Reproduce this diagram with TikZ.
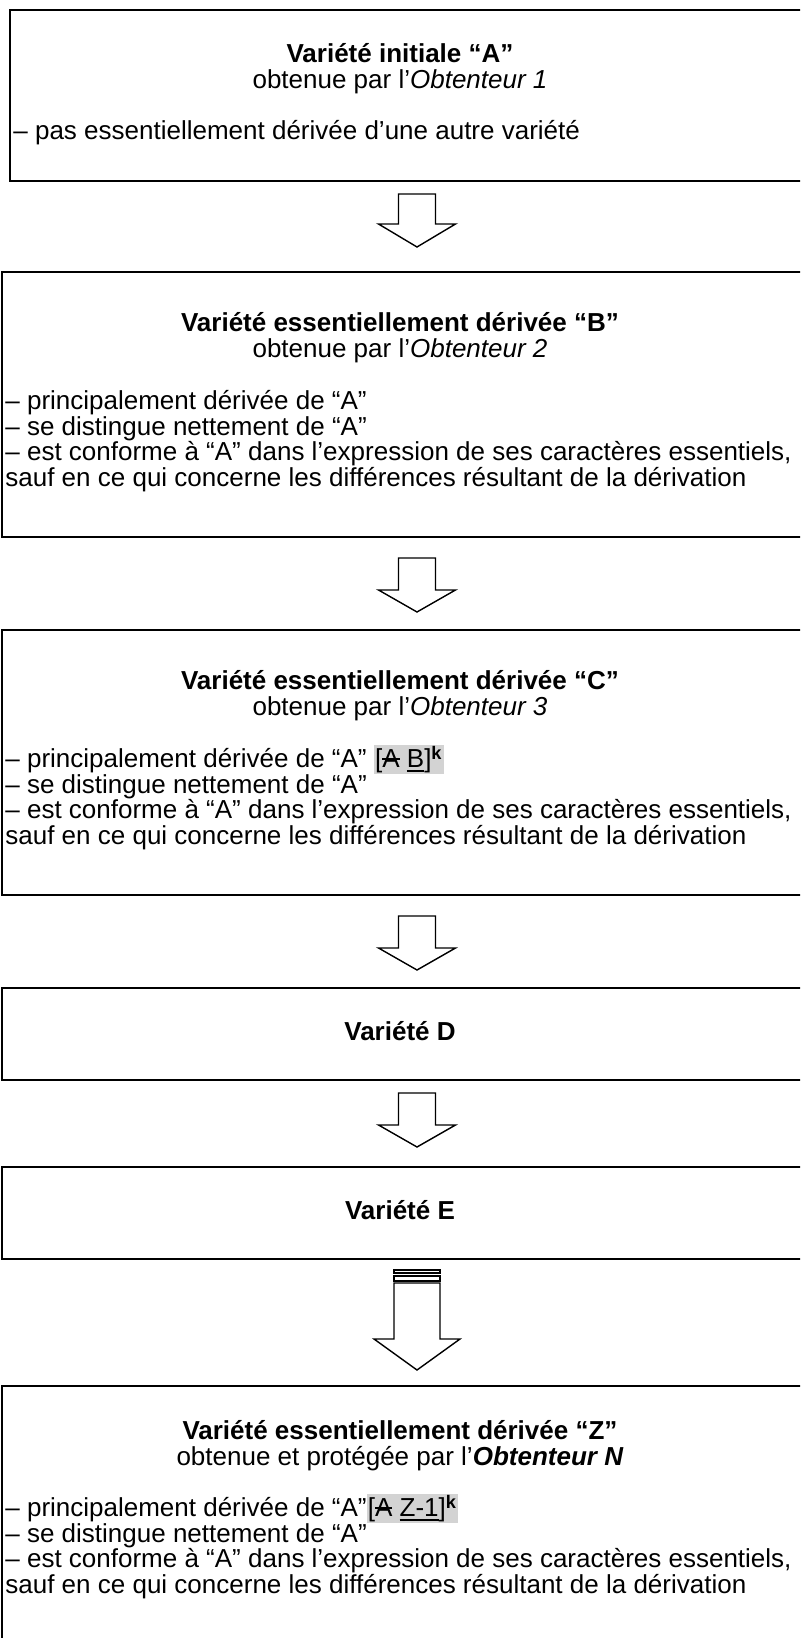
\documentclass[tikz,border=0pt]{standalone}
\usepackage{fontspec}
\setmainfont{Liberation Sans}
\definecolor{hlgray}{RGB}{211,211,211}
\newsavebox{\wordbox}
\newcommand{\hl}[1]{{\setlength{\fboxsep}{0.6pt}\colorbox{hlgray}{#1}}}
\newcommand{\strk}[1]{\sbox{\wordbox}{#1}\rlap{\usebox{\wordbox}}\rule[0.3em]{\wd\wordbox}{0.07em}}
\newcommand{\undl}[1]{\sbox{\wordbox}{#1}\rlap{\usebox{\wordbox}}\rule[-0.15em]{\wd\wordbox}{0.06em}}

\begin{document}
\begin{tikzpicture}[x=0.5pt, y=-0.5pt,
    box/.style={line width=1.3pt},
    blockarrow/.style={line width=0.7pt, fill=white, line join=miter},
    txt/.style={inner sep=0pt, text height=9.4pt, text depth=2.7pt,
      font=\fontsize{13}{14}\selectfont},
    title/.style={txt, font=\fontsize{13}{14}\selectfont\bfseries},
    item/.style={txt, anchor=west}]
  \useasboundingbox (0,0) rectangle (800,1638);
  \clip (0,0) rectangle (800,1638);
  % Variety A
  \draw[box] (10,10) rectangle (820,181);
  \node[title] (titleA) at (400,56) {Variété initiale “A”};
  \node[txt] (byA) at (400,82) {obtenue par l’\textit{Obtenteur 1}};
  \node[item] (a1) at (13,133) {– pas essentiellement dérivée d’une autre variété};
  % Variety B
  \draw[box] (2,272) rectangle (820,537);
  \node[title] (titleB) at (400,325) {Variété essentiellement dérivée “B”};
  \node[txt] (byB) at (400,351) {obtenue par l’\textit{Obtenteur 2}};
  \node[item] (b1) at (5,403) {– principalement dérivée de “A”};
  \node[item] (b2) at (5,428.5) {– se distingue nettement de “A”};
  \node[item] (b3) at (5,454) {– est conforme à “A” dans l’expression de ses caractères essentiels,};
  \node[item] (b4) at (5,479.5) {sauf en ce qui concerne les différences résultant de la dérivation};
  % Variety C
  \draw[box] (2,630) rectangle (820,895);
  \node[title] (titleC) at (400,683) {Variété essentiellement dérivée “C”};
  \node[txt] (byC) at (400,709) {obtenue par l’\textit{Obtenteur 3}};
  \node[item] (c1) at (5,761) {– principalement dérivée de “A” \hl{[\strk{A} \undl{B}]\textsuperscript{\textbf{k}}}};
  \node[item] (c2) at (5,786.5) {– se distingue nettement de “A”};
  \node[item] (c3) at (5,812) {– est conforme à “A” dans l’expression de ses caractères essentiels,};
  \node[item] (c4) at (5,837.5) {sauf en ce qui concerne les différences résultant de la dérivation};
  % Variety D
  \draw[box] (2,988) rectangle (820,1080);
  \node[title] (titleD) at (400,1034) {Variété D};
  % Variety E
  \draw[box] (2,1167) rectangle (820,1259);
  \node[title] (titleE) at (400,1213) {Variété E};
  % Variety Z
  \draw[box] (2,1386) rectangle (820,1700);
  \node[title] (titleZ) at (400,1433) {Variété essentiellement dérivée “Z”};
  \node[txt] (byZ) at (400,1459) {obtenue et protégée par l’\textbf{\textit{Obtenteur N}}};
  \node[item] (z1) at (5,1510) {– principalement dérivée de “A”\hl{[\strk{A} \undl{Z-1}]\textsuperscript{\textbf{k}}}};
  \node[item] (z2) at (5,1535.5) {– se distingue nettement de “A”};
  \node[item] (z3) at (5,1561) {– est conforme à “A” dans l’expression de ses caractères essentiels,};
  \node[item] (z4) at (5,1586.5) {sauf en ce qui concerne les différences résultant de la dérivation};
  % Block arrows
  \foreach \t/\s/\e in {194/224/247, 558/590/612, 916/948/970, 1093/1125/1147}
    \draw[blockarrow] (398.5,\t) -- (435.5,\t) -- (435.5,\s) -- (455.5,\s)
      -- (417,\e) -- (378.5,\s) -- (398.5,\s) -- cycle;
  % Striped arrow
  \draw[blockarrow] (394,1270) rectangle (440,1273);
  \draw[blockarrow] (394,1276) rectangle (440,1281);
  \draw[blockarrow] (394,1283) -- (440,1283) -- (440,1339) -- (460,1339)
    -- (417,1370) -- (374,1339) -- (394,1339) -- cycle;
\end{tikzpicture}
\end{document}
